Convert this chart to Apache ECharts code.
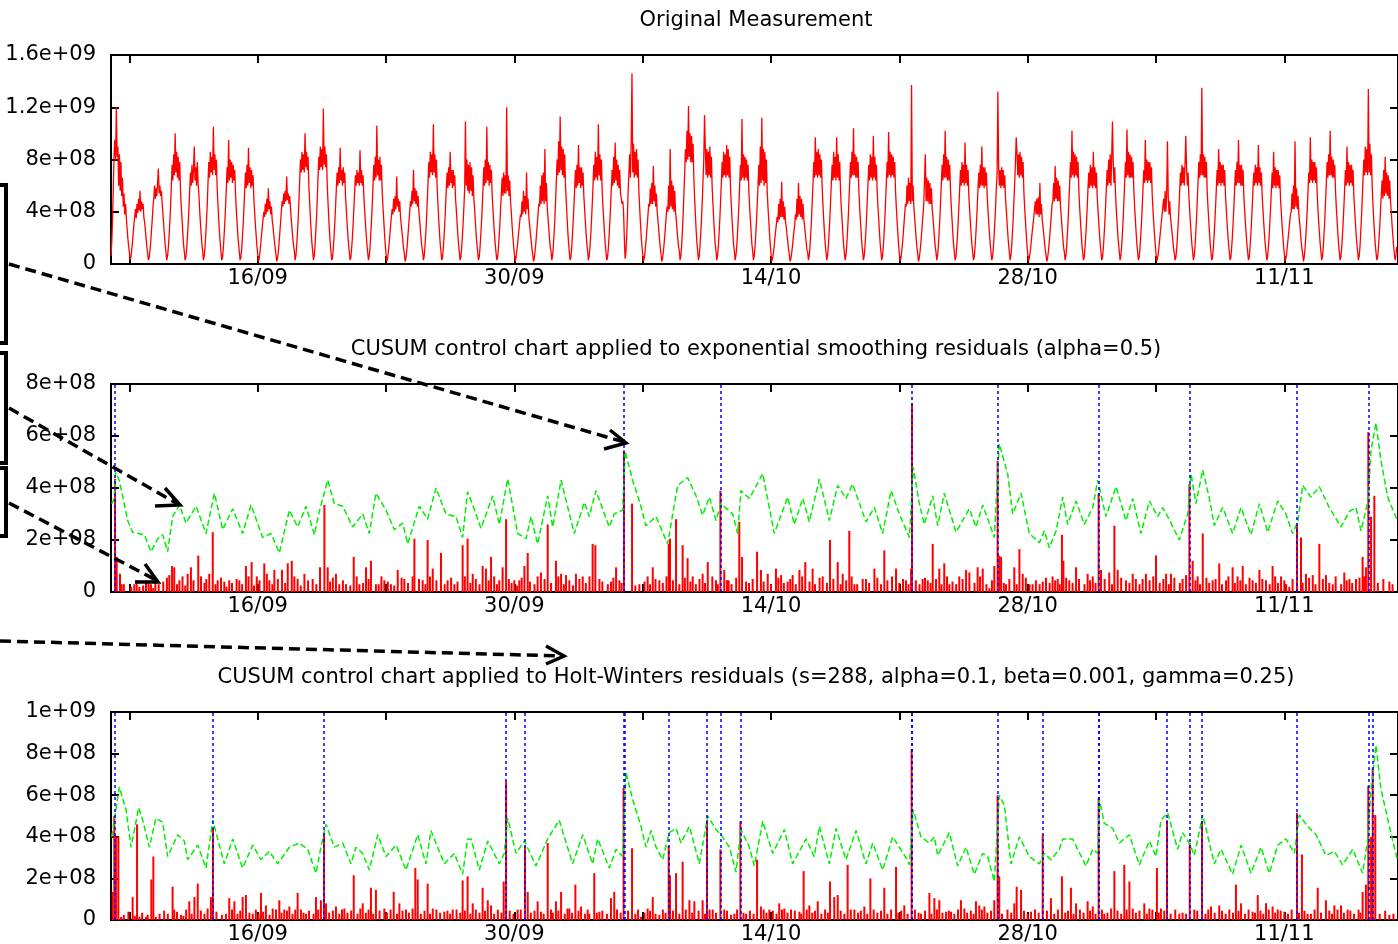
<!DOCTYPE html>
<html><head><meta charset="utf-8">
<script src="https://cdn.jsdelivr.net/npm/echarts@6/dist/echarts.min.js"></script>
<style>html,body{margin:0;padding:0;background:#fff}#c{width:1398px;height:944px}</style>
</head><body><div id="c"></div>
<script>
// x values: days since 01/09 00:00 ; y values in units of 1e8
const xMin = 7, xMax = 77.2;
const tickDays = [8, 15, 22, 29, 36, 43, 50, 57, 64, 71];
const labelDays = [15, 29, 43, 57, 71];
const labelTexts = ['16/09', '30/09', '14/10', '28/10', '11/11'];
const titles = [
  'Original Measurement',
  'CUSUM control chart applied to exponential smoothing residuals (alpha=0.5)',
  'CUSUM control chart applied to Holt-Winters residuals (s=288, alpha=0.1, beta=0.001, gamma=0.25)'
];
const yMaxes = [16, 8, 10];
const yIntervals = [4, 2, 2];

// Original measurement, one sample per hour starting 08/09 00:00 (one row per day)
const measuredStart = 7, measuredStepHours = 1;
const measured = [
0.6,1.6,3.4,5.8,8.4,9.5,8.0,12.0,8.2,9.0,6.0,8.4,5.6,7.8,5.2,6.6,4.4,5.4,3.8,4.6,3.6,2.8,2.0,1.4,
0.9,0.3,0.5,1.0,1.6,2.4,3.0,3.6,4.2,3.5,4.6,3.9,5.0,4.1,5.6,4.0,4.8,4.2,4.6,3.6,3.2,2.6,1.9,1.3,
0.8,0.3,0.5,1.0,1.7,2.6,3.4,4.4,5.0,6.0,5.0,5.8,5.2,6.2,7.3,5.4,6.0,5.2,5.6,4.6,3.8,3.0,2.2,1.4,
0.9,0.3,0.6,1.2,2.1,3.2,4.4,6.0,7.6,6.4,8.4,6.8,10.0,7.0,8.6,6.6,8.2,6.4,7.8,5.6,4.4,3.4,2.4,1.5,
0.9,0.3,0.5,1.1,2.0,3.0,4.2,5.6,7.0,6.0,7.6,6.2,7.2,9.0,6.4,7.4,6.0,7.8,6.2,5.4,4.2,3.2,2.3,1.5,
1.0,0.3,0.6,1.2,2.2,3.3,4.6,6.2,7.8,6.6,8.6,7.0,8.2,6.8,10.5,7.2,8.4,6.8,8.0,5.8,4.6,3.4,2.4,1.6,
0.9,0.3,0.5,1.2,2.1,3.2,4.4,5.8,7.4,6.2,9.5,6.4,8.0,6.6,7.8,6.2,7.6,6.4,7.2,5.4,4.2,3.2,2.3,1.5,
0.9,0.3,0.5,1.1,2.0,3.0,4.2,5.6,7.0,5.8,7.6,6.0,8.9,6.2,7.4,5.8,7.2,6.0,6.8,5.0,4.0,3.0,2.2,1.4,
0.8,0.2,0.4,0.9,1.5,2.2,2.8,3.4,4.0,3.6,4.6,3.8,5.0,4.0,5.8,4.2,4.8,3.8,4.4,3.4,2.9,2.3,1.7,1.2,
0.7,0.2,0.4,0.9,1.6,2.4,3.2,4.0,4.8,4.4,5.4,4.6,5.6,4.8,6.7,4.9,5.4,4.6,5.2,4.2,3.4,2.7,2.0,1.4,
1.0,0.3,0.6,1.3,2.3,3.4,4.8,6.4,8.0,7.0,8.6,7.2,8.4,7.0,10.0,7.4,8.6,7.2,8.2,6.0,4.8,3.6,2.5,1.6,
1.0,0.3,0.6,1.3,2.4,3.5,5.0,6.6,8.2,7.2,9.0,7.4,8.8,7.2,11.9,7.6,9.0,7.4,8.4,6.2,4.8,3.6,2.5,1.6,
0.9,0.3,0.5,1.2,2.1,3.2,4.4,5.8,7.0,6.0,7.4,6.2,8.9,6.4,7.2,6.0,7.4,6.2,7.0,5.2,4.2,3.2,2.3,1.5,
0.9,0.3,0.5,1.2,2.0,3.1,4.3,5.6,6.8,6.0,7.2,6.2,7.0,6.0,8.7,6.2,7.2,6.0,6.8,5.2,4.2,3.2,2.3,1.5,
0.9,0.3,0.6,1.2,2.2,3.3,4.5,6.0,7.6,6.4,8.2,6.6,10.6,6.8,8.0,6.4,8.2,6.4,7.6,5.6,4.4,3.4,2.4,1.5,
0.8,0.2,0.4,0.9,1.5,2.2,2.9,3.6,4.2,3.8,5.0,4.0,5.2,4.2,6.7,4.4,5.0,4.0,4.8,3.6,3.0,2.4,1.8,1.2,
0.8,0.2,0.4,0.9,1.6,2.4,3.2,4.0,4.8,4.4,5.6,4.6,7.2,4.8,5.8,4.6,5.6,4.4,5.2,4.0,3.4,2.6,1.9,1.3,
0.9,0.3,0.6,1.3,2.3,3.4,4.8,6.2,7.8,6.6,8.6,7.0,8.4,6.8,10.7,7.0,8.4,6.6,8.0,5.8,4.6,3.4,2.4,1.5,
0.9,0.3,0.5,1.2,2.1,3.2,4.4,5.8,7.0,5.8,7.4,6.0,8.6,6.2,7.2,5.8,7.2,6.0,6.8,5.0,4.2,3.2,2.3,1.5,
0.9,0.3,0.5,1.2,2.1,3.2,4.4,5.8,10.9,6.0,8.0,5.6,7.6,5.4,7.8,5.6,7.4,5.2,6.8,5.0,4.2,3.2,2.3,1.5,
0.9,0.3,0.5,1.2,2.1,3.2,4.4,5.8,7.4,6.0,8.0,6.2,10.5,6.4,7.8,6.0,7.6,6.2,7.2,5.2,4.2,3.2,2.3,1.5,
0.9,0.3,0.5,1.1,2.0,3.0,4.2,5.4,6.6,5.2,7.0,5.4,6.8,5.4,12.0,5.6,6.8,5.2,6.4,4.8,4.0,3.0,2.2,1.4,
0.8,0.2,0.4,0.9,1.4,2.0,2.6,3.2,3.8,3.6,4.8,3.8,5.6,4.0,5.2,3.8,7.0,4.2,5.0,3.6,3.0,2.4,1.8,1.2,
0.8,0.2,0.4,0.9,1.5,2.2,3.0,3.8,4.6,4.4,6.0,4.6,6.8,4.8,7.0,4.6,8.8,4.8,6.2,4.4,3.6,2.8,2.0,1.3,
1.0,0.3,0.6,1.3,2.3,3.4,4.8,6.4,8.0,6.8,9.4,7.0,11.3,7.2,9.0,6.8,8.8,6.6,8.4,6.0,4.8,3.6,2.5,1.6,
0.9,0.3,0.5,1.2,2.1,3.2,4.4,5.8,7.2,5.8,7.6,6.0,9.1,6.2,7.4,5.8,7.4,6.0,7.0,5.2,4.2,3.2,2.3,1.5,
0.9,0.3,0.6,1.3,2.2,3.3,4.6,6.0,7.6,6.4,8.6,6.6,8.2,6.4,10.7,6.8,8.4,6.4,8.0,5.6,4.4,3.4,2.4,1.5,
0.9,0.3,0.5,1.2,2.1,3.2,4.4,5.8,7.2,6.0,8.2,6.2,9.3,6.4,8.0,6.0,7.6,5.8,7.2,5.4,5.0,4.6,4.8,4.0,
2.0,0.4,0.8,2.0,3.6,5.6,7.0,8.4,6.6,9.5,14.6,7.0,9.2,6.6,8.6,6.8,8.8,6.6,8.0,5.6,4.4,3.2,2.2,1.4,
0.8,0.2,0.4,0.9,1.5,2.2,3.0,3.8,4.6,4.4,5.8,4.6,6.2,4.6,7.5,4.8,6.0,4.4,5.4,4.0,3.4,2.6,1.9,1.3,
0.8,0.2,0.4,0.9,1.5,2.2,3.0,3.8,4.4,4.0,6.0,4.2,8.8,4.4,6.4,4.2,6.0,4.0,5.6,4.0,3.4,2.6,1.9,1.3,
1.0,0.3,0.6,1.4,2.5,3.8,5.4,7.0,8.8,7.8,10.2,8.0,12.1,8.2,10.0,7.8,9.8,7.8,9.2,6.6,5.0,3.8,2.6,1.6,
1.0,0.3,0.6,1.3,2.3,3.4,4.8,6.4,8.0,11.4,9.0,6.8,8.8,6.6,8.6,6.8,9.0,6.6,8.2,5.8,4.6,3.4,2.4,1.5,
1.0,0.3,0.6,1.3,2.3,3.4,4.8,6.2,7.8,6.6,8.6,6.8,8.4,6.6,9.1,6.8,8.8,6.6,8.2,5.8,4.6,3.4,2.4,1.5,
1.0,0.3,0.6,1.2,2.2,3.3,4.6,6.0,7.6,6.4,11.1,6.6,8.4,6.4,8.2,6.6,8.0,6.4,7.6,5.6,4.4,3.4,2.4,1.5,
1.0,0.3,0.6,1.2,2.2,3.3,4.6,6.0,7.6,6.0,9.0,6.2,11.2,6.4,8.8,6.0,8.6,6.2,8.0,5.6,4.4,3.4,2.4,1.5,
0.8,0.2,0.4,0.8,1.3,1.9,2.5,3.0,3.6,3.2,4.6,3.4,5.0,3.6,6.3,3.6,4.8,3.4,4.4,3.2,2.8,2.2,1.7,1.1,
0.7,0.2,0.4,0.8,1.3,1.9,2.5,3.0,3.8,3.4,5.0,3.6,6.2,3.8,5.2,3.6,5.0,3.4,4.6,3.4,2.9,2.3,1.7,1.1,
0.9,0.3,0.6,1.3,2.3,3.4,4.8,6.2,7.8,6.6,9.7,6.8,8.6,6.6,8.8,6.8,8.4,6.6,8.0,5.8,4.6,3.4,2.4,1.5,
0.9,0.3,0.6,1.3,2.3,3.4,4.8,6.2,7.6,6.4,8.6,6.6,8.2,6.4,9.7,6.6,8.4,6.4,7.8,5.6,4.4,3.4,2.4,1.5,
0.9,0.3,0.6,1.3,2.3,3.4,4.8,6.2,7.8,6.6,8.6,6.8,10.4,6.8,8.4,6.6,8.2,6.6,7.8,5.6,4.4,3.4,2.4,1.5,
0.9,0.3,0.6,1.3,2.3,3.4,4.8,6.2,7.6,6.4,8.4,6.6,8.2,6.4,9.8,6.6,8.2,6.4,7.6,5.6,4.4,3.4,2.4,1.5,
0.9,0.3,0.6,1.3,2.3,3.4,4.8,6.2,7.8,6.6,10.1,6.8,8.6,6.6,8.4,6.8,8.2,6.6,7.8,5.6,4.4,3.4,2.4,1.5,
0.8,0.2,0.4,0.9,1.5,2.2,3.0,3.8,4.6,4.4,6.0,4.6,6.6,4.8,6.2,4.6,13.7,4.8,6.0,4.4,3.6,2.8,2.0,1.3,
0.8,0.2,0.4,0.9,1.5,2.2,3.0,3.8,4.6,4.6,8.4,4.8,6.6,4.8,6.4,4.6,6.2,4.6,5.8,4.2,3.6,2.8,2.0,1.3,
0.9,0.3,0.6,1.3,2.3,3.4,4.8,6.2,7.6,6.4,8.4,6.6,10.2,6.6,8.2,6.4,8.0,6.4,7.6,5.6,4.4,3.4,2.4,1.5,
0.9,0.3,0.5,1.2,2.1,3.2,4.4,5.8,7.2,6.0,7.8,6.2,7.6,6.0,9.3,6.2,7.6,6.0,7.2,5.2,4.2,3.2,2.3,1.5,
0.9,0.3,0.5,1.2,2.1,3.2,4.4,5.8,7.0,5.8,7.6,6.0,9.0,6.0,7.4,5.8,7.4,6.0,7.0,5.2,4.2,3.2,2.3,1.5,
0.9,0.3,0.5,1.2,2.1,3.2,4.4,5.8,7.0,13.2,7.4,6.0,7.2,5.8,7.4,6.0,7.2,5.8,6.8,5.0,4.2,3.2,2.3,1.5,
0.9,0.3,0.6,1.3,2.3,3.4,4.8,6.2,7.8,9.7,8.6,6.8,8.4,6.6,8.6,6.8,8.2,6.6,7.8,5.6,4.4,3.4,2.4,1.5,
0.8,0.2,0.4,0.8,1.3,1.9,2.5,3.0,3.6,3.6,4.8,3.8,5.0,3.8,5.1,3.6,6.2,3.8,4.6,3.4,2.9,2.3,1.7,1.1,
0.7,0.2,0.4,0.9,1.5,2.2,3.0,3.8,4.6,4.8,6.2,4.8,7.5,5.0,6.6,4.8,6.4,4.8,6.0,4.4,3.6,2.8,2.0,1.3,
0.9,0.3,0.6,1.3,2.3,3.4,4.8,6.2,7.8,6.6,10.2,6.8,8.6,6.6,8.4,6.8,8.2,6.6,7.8,5.6,4.4,3.4,2.4,1.5,
0.9,0.3,0.5,1.2,2.1,3.2,4.4,5.8,7.0,5.8,7.6,6.0,7.4,5.8,8.6,6.0,7.4,5.8,7.0,5.2,4.2,3.2,2.3,1.5,
0.9,0.3,0.5,1.2,2.1,3.2,4.4,5.8,7.2,6.0,8.0,6.2,8.4,6.0,8.2,10.9,7.8,6.2,7.4,5.4,4.2,3.2,2.3,1.5,
0.9,0.3,0.6,1.3,2.3,3.4,4.8,6.2,7.8,6.6,10.3,6.8,8.6,6.6,8.4,6.6,8.2,6.6,7.8,5.6,4.4,3.4,2.4,1.5,
0.9,0.3,0.5,1.2,2.1,3.2,4.4,5.8,7.2,6.2,9.5,6.4,8.0,6.2,7.8,6.4,7.8,6.2,7.4,5.4,4.2,3.2,2.3,1.5,
0.8,0.2,0.4,0.8,1.4,2.0,2.6,3.2,3.8,3.8,5.0,4.0,5.6,4.0,5.4,9.4,5.2,3.8,4.8,3.6,3.0,2.4,1.8,1.2,
0.8,0.3,0.5,1.1,2.0,3.0,4.2,5.6,7.0,6.0,7.6,6.2,7.4,6.0,7.6,9.8,7.4,6.0,7.0,5.2,4.2,3.2,2.3,1.5,
0.9,0.3,0.6,1.3,2.3,3.4,4.8,6.2,7.8,6.6,8.4,6.8,13.5,6.8,8.4,6.6,8.2,6.6,7.8,5.6,4.4,3.4,2.4,1.5,
0.9,0.3,0.5,1.2,2.1,3.2,4.4,5.8,7.2,6.0,8.8,6.2,7.8,6.0,7.6,6.2,7.6,6.0,7.2,5.2,4.2,3.2,2.3,1.5,
0.9,0.3,0.5,1.2,2.1,3.2,4.4,5.8,7.2,6.0,7.8,6.2,9.5,6.2,7.6,6.0,7.6,6.0,7.2,5.2,4.2,3.2,2.3,1.5,
0.9,0.3,0.5,1.2,2.1,3.2,4.4,5.8,7.0,6.0,7.6,6.2,7.4,6.0,9.1,6.2,7.4,6.0,7.0,5.2,4.2,3.2,2.3,1.5,
0.9,0.3,0.5,1.2,2.0,3.1,4.3,5.6,7.0,5.8,8.6,6.0,7.4,5.8,7.2,6.0,7.2,5.8,6.8,5.0,4.0,3.0,2.2,1.4,
0.8,0.2,0.4,0.8,1.4,2.0,2.6,3.2,3.8,4.0,5.4,4.2,6.0,4.2,9.4,4.4,5.8,4.2,5.2,3.8,3.2,2.5,1.8,1.2,
0.8,0.2,0.5,1.1,2.0,3.0,4.2,5.6,7.0,6.2,9.7,6.4,8.0,6.2,7.8,6.4,7.8,6.2,7.4,5.4,4.2,3.2,2.3,1.5,
0.9,0.3,0.6,1.3,2.3,3.4,4.8,6.2,7.8,6.6,8.4,6.8,10.2,6.8,8.2,6.6,8.0,6.6,7.6,5.6,4.4,3.4,2.4,1.5,
0.9,0.3,0.5,1.2,2.1,3.2,4.4,5.8,7.2,6.0,9.0,6.2,7.8,6.0,7.6,6.2,7.6,6.0,7.2,5.2,4.2,3.2,2.3,1.5,
0.9,0.3,0.6,1.3,2.4,3.6,5.0,6.4,8.0,6.8,9.0,7.0,8.8,6.8,13.4,7.0,9.2,6.8,8.4,6.0,4.6,3.4,2.4,1.5,
0.9,0.3,0.5,1.1,2.0,3.0,4.2,5.4,6.4,5.0,7.2,5.2,8.2,5.4,7.0,5.2,6.8,5.0,6.4,4.8,4.0,3.0,2.2,1.4,
0.8,0.3,0.6,1.3
];

// Exponential smoothing CUSUM panel
const esAlarmDays = [7.22, 34.98, 40.24, 50.69, 55.36, 60.87, 65.82, 71.69, 75.58];
const esCusumDays = [7.22,7.31,7.49,7.58,8.27,8.55,8.91,9.18,9.42,9.60,10.18,10.33,10.45,10.73,11.18,11.36,11.76,11.91,12.36,12.55,12.82,13.18,13.45,14.00,14.36,14.67,14.95,15.36,15.64,15.91,16.33,16.64,16.86,17.18,17.55,18.00,18.40,18.64,18.82,19.27,19.82,20.24,20.55,20.91,21.18,21.45,21.91,22.27,22.64,23.00,23.45,23.55,24.00,24.27,24.55,25.00,25.36,25.73,26.18,26.45,
26.73,27.27,27.45,27.73,28.18,28.36,28.55,29.0,29.27,29.55,29.73,30.27,30.45,30.82,31.27,31.55,31.82,32.36,32.73,33.27,33.42,33.64,34.27,34.55,34.73,34.98,35.42,35.82,36.27,36.55,36.91,37.42,37.49,37.82,38.18,38.45,38.73,39.27,39.55,40.0,40.24,40.45,40.69,41.27,41.42,41.64,42.24,42.45,42.82,43.27,43.55,43.91,44.18,44.55,44.87,45.27,45.82,46.22,46.64,46.91,47.27,47.55,48.18,48.64,49.18,49.82,50.36,50.64,50.69,51.27,51.55,
51.82,52.18,52.45,52.73,53.27,53.64,53.82,54.27,54.55,54.91,55.18,55.36,55.45,55.55,55.82,56.27,56.55,56.73,57.27,57.82,58.36,58.64,58.87,58.95,59.27,59.64,60.27,60.55,60.87,61.0,61.45,61.73,61.91,62.36,62.73,63.27,63.45,64.0,64.55,64.82,65.45,65.64,65.82,66.0,66.27,66.55,67.09,67.45,67.82,68.18,68.45,68.73,69.27,69.64,70.0,70.36,70.82,71.27,71.69,71.91,72.18,72.55,72.91,73.27,73.64,74.27,74.55,74.91,75.27,75.45,75.58,75.73,75.91,76.73];
const esCusumVals = [4.35,1.35,0.7,0.3,0.3,0.2,0.45,0.3,0.5,0.3,0.65,1.0,0.95,0.45,0.7,0.95,1.4,0.6,0.7,2.3,0.45,0.4,0.45,0.45,1.0,1.15,0.6,1.1,0.45,0.85,0.85,1.1,1.2,0.5,0.7,0.5,0.95,3.35,0.95,0.7,0.3,1.35,0.3,0.95,1.2,0.3,0.45,0.3,0.85,0.5,0.6,2.05,0.45,2.0,0.9,1.5,0.45,0.3,1.8,2.05,
0.7,1.0,0.9,1.35,0.45,0.95,2.8,0.45,0.45,1.0,1.5,0.6,0.75,2.6,1.2,0.7,0.65,0.7,0.6,1.85,1.8,0.5,0.4,0.95,0.45,5.45,3.4,0.3,0.6,0.95,0.45,1.85,2.05,2.8,1.8,1.3,0.6,0.7,1.15,0.45,3.9,0.85,0.45,2.7,1.35,0.4,1.55,0.85,0.7,0.9,0.65,0.4,0.65,0.85,1.15,0.9,0.6,2.0,1.15,0.7,2.35,0.3,0.5,0.9,1.6,0.9,0.45,0.9,7.25,0.5,0.45,
1.85,0.9,1.1,0.3,0.6,0.85,0.75,0.95,0.9,0.15,1.0,5.05,1.4,1.35,0.3,0.95,1.65,0.7,0.3,0.4,0.6,0.5,2.2,1.2,0.45,0.95,0.7,0.6,3.8,0.85,0.75,2.55,0.85,0.45,0.7,0.5,0.7,1.4,0.7,0.7,0.5,0.65,4.15,1.2,0.6,2.25,0.45,1.1,0.45,0.95,0.6,1.0,0.45,0.85,0.45,1.0,0.6,0.2,2.65,2.1,0.7,0.65,1.85,0.65,0.3,0.75,0.5,0.5,1.35,0.95,6.15,2.9,3.7,0.4];
// small residual impulses filling the base of the panel
const esGrass = [[7.7,0.3],[8.1,0.2],[8.4,0.45],[8.75,0.25],[9.05,0.35],[9.3,0.15],[9.85,0.4],[10.05,0.55],[10.6,0.3],[10.9,0.6],[11.05,0.25],[11.5,0.45],[12.1,0.35],[12.2,0.5],[12.7,0.3],[13.0,0.55],[13.3,0.2],[13.6,0.35],[13.85,0.5],[14.15,0.3],[14.5,0.6],[14.8,0.25],[15.1,0.45],[15.5,0.7],[15.8,0.3],[16.1,0.5],[16.5,0.35],[17.0,0.6],[17.35,0.25],[17.75,0.45],[18.2,0.3],[18.95,0.4],[19.1,0.55],[19.45,0.3],[19.65,0.45],[20.05,0.25],[20.4,0.6],[20.75,0.35],[21.05,0.5],[21.6,0.3],[21.75,0.6],[22.1,0.4],[22.45,0.25],[22.85,0.55],[23.2,0.35],[23.8,0.5],[24.15,0.3],[24.4,0.6],[24.75,0.45],[25.2,0.3],[25.55,0.55],[25.9,0.4],[26.3,0.6],[26.6,0.35],[26.9,0.5],[27.1,0.3],[27.6,0.45],[27.9,0.6],[28.05,0.3],[28.7,0.5],[28.85,0.35],[29.15,0.25],[29.4,0.55],[29.85,0.4],[30.1,0.3],[30.65,0.5],[31.0,0.35],[31.4,0.6],[31.7,0.3],[32.0,0.45],[32.2,0.25],[32.55,0.5],[32.9,0.35],[33.1,0.6],[33.8,0.4],[34.1,0.3],[34.4,0.55],[34.85,0.35],[35.6,0.25],[36.1,0.4],[36.4,0.3],[36.7,0.5],[37.1,0.35],[37.3,0.6],[37.65,0.45],[38.0,0.3],[38.3,0.55],[38.6,0.4],[38.9,0.3],[39.1,0.5],[39.4,0.35],[39.8,0.6],[40.1,0.3],[40.6,0.45],[40.85,0.3],[41.1,0.55],[41.8,0.35],[42.0,0.5],[42.6,0.4],[43.0,0.3],[43.4,0.55],[43.7,0.35],[44.05,0.5],[44.35,0.3],[44.7,0.6],[45.1,0.4],[45.4,0.3],[45.65,0.55],[46.05,0.35],[46.4,0.5],[46.8,0.3],[47.1,0.45],[47.4,0.6],[47.7,0.3],[48.0,0.5],[48.35,0.35],[48.8,0.55],[49.0,0.3],[49.35,0.45],[49.6,0.6],[50.0,0.35],[50.2,0.5],[50.5,0.3],[50.9,0.45],[51.1,0.3],[51.4,0.55],[51.7,0.35],[52.0,0.5],[52.3,0.3],[52.6,0.6],[52.9,0.4],[53.1,0.3],[53.45,0.5],[54.1,0.35],[54.4,0.6],[54.75,0.3],[55.05,0.45],[55.7,0.35],[56.0,0.5],[56.4,0.3],[56.9,0.55],[57.1,0.3],[57.45,0.45],[57.65,0.3],[58.0,0.55],[58.2,0.35],[58.5,0.45],[58.75,0.3],[59.1,0.55],[59.45,0.35],[59.8,0.5],[60.1,0.3],[60.4,0.45],[60.7,0.35],[61.2,0.5],[61.6,0.3],[62.1,0.55],[62.55,0.35],[62.9,0.5],[63.1,0.3],[63.65,0.45],[63.85,0.6],[64.2,0.35],[64.4,0.5],[64.7,0.3],[65.0,0.55],[65.3,0.35],[66.15,0.45],[66.4,0.3],[66.75,0.55],[66.9,0.35],[67.25,0.5],[67.6,0.3],[67.95,0.6],[68.3,0.35],[68.6,0.45],[68.9,0.3],[69.1,0.55],[69.45,0.35],[69.8,0.5],[70.2,0.3],[70.5,0.6],[70.65,0.35],[71.0,0.45],[71.1,0.3],[71.45,0.5],[72.0,0.35],[72.35,0.55],[72.7,0.3],[73.1,0.5],[73.45,0.35],[73.8,0.6],[74.1,0.3],[74.4,0.45],[74.7,0.35],[75.1,0.55],[75.35,0.6],[76.1,0.35],[76.4,0.5],[76.9,0.3]];
const esLimitDays = [7.04,7.18,7.25,7.45,7.91,8.18,8.82,9.18,9.55,9.82,10.09,10.36,10.73,11.09,11.64,12.18,12.64,13.09,13.64,14.18,14.64,15.27,15.73,16.18,16.73,17.18,17.64,18.09,18.36,18.82,19.18,19.64,20.18,20.73,21.09,21.45,22.0,22.45,22.91,23.18,23.82,24.27,24.73,25.27,25.82,26.18,
26.45,26.73,27.18,27.82,28.18,28.64,29.18,29.64,29.91,30.27,30.82,31.09,31.55,32.27,32.82,33.09,33.45,34.18,34.45,34.91,35.05,35.45,35.82,36.18,36.73,37.36,37.64,37.91,38.45,38.91,39.27,39.64,40.0,40.27,40.91,41.18,41.36,41.82,42.55,43.18,43.91,44.27,44.73,45.09,45.64,46.18,46.64,47.09,47.45,48.18,48.64,49.09,49.55,50.0,50.55,50.76,51.09,51.36,
51.82,52.09,52.45,53.09,53.82,54.18,54.55,55.18,55.45,55.91,56.18,56.64,57.09,57.64,57.91,58.18,58.55,58.91,59.18,59.64,60.09,60.55,60.82,61.27,61.82,62.36,62.73,63.18,63.64,64.09,64.36,64.64,65.27,65.73,65.91,66.18,66.55,66.91,67.18,67.64,68.18,68.64,69.18,69.64,70.09,70.64,71.09,71.45,71.73,72.0,72.45,72.91,73.45,74.09,74.55,74.91,75.18,75.55,75.73,76.0,76.27,76.64,77.16];
const esLimitVals = [3.4,3.6,4.6,4.3,2.75,2.3,2.2,1.55,2.05,2.2,1.55,2.9,3.35,2.65,3.3,2.25,3.8,2.4,3.2,2.25,3.35,2.1,2.25,1.5,3.15,2.5,3.3,2.2,3.1,4.3,3.4,3.3,2.5,3.0,2.25,3.8,3.15,2.4,2.65,1.85,3.3,2.8,4.0,3.0,2.9,2.1,
3.85,3.35,2.45,3.7,2.6,4.35,2.25,2.05,2.9,1.85,3.7,2.5,4.3,2.25,3.45,2.9,3.9,2.5,3.0,3.15,5.4,4.3,3.5,2.55,2.9,1.85,3.0,4.1,4.4,3.7,2.95,3.65,2.75,3.4,3.0,2.25,3.9,3.6,4.55,2.25,3.65,2.6,3.6,2.7,4.35,2.75,4.1,3.6,4.15,2.7,3.25,2.25,3.9,3.0,2.1,4.8,3.4,2.6,
3.7,2.55,3.8,2.3,3.2,2.5,3.35,2.1,5.7,4.55,3.0,3.8,2.25,1.9,2.35,1.7,2.35,3.65,2.6,3.5,2.6,3.25,4.3,2.9,4.05,2.75,3.6,2.25,3.5,2.9,3.25,2.9,2.0,3.0,4.55,3.4,4.7,3.6,2.55,3.25,2.25,3.25,2.2,3.4,2.3,3.5,3.0,2.25,2.7,4.1,3.65,4.05,3.25,2.5,3.1,3.25,2.35,3.45,5.45,6.5,5.05,3.65,2.75];

// Holt-Winters CUSUM panel
const hwAlarmDays = [7.22, 12.56, 18.62, 28.55, 29.58, 34.96, 35.0, 37.42, 39.51, 40.24, 41.33, 50.67, 50.70, 55.36, 57.82, 60.87, 60.90, 64.60, 65.84, 66.51, 71.69, 75.58, 75.82];
const hwCusumDays = [7.09,7.18,7.27,7.40,7.55,8.18,8.42,8.55,8.91,9.20,9.31,9.45,10.36,10.45,10.82,11.27,11.55,11.73,12.27,12.45,12.56,13.27,13.45,13.73,14.18,14.36,14.73,15.18,15.45,15.82,16.18,16.45,16.73,17.18,17.36,17.64,18.18,18.45,18.62,18.73,19.27,19.73,20.24,20.73,21.18,21.45,21.91,22.42,22.73,23.09,23.60,23.73,24.27,24.55,25.18,25.64,26.18,26.45,
26.73,27.27,27.55,27.73,28.42,28.55,29.18,29.58,29.73,30.27,30.45,30.82,31.27,31.55,32.0,32.33,32.64,33.09,33.36,33.64,34.27,34.45,34.96,35.42,35.91,36.27,36.55,36.91,37.42,37.49,37.82,38.18,38.55,38.82,39.27,39.51,39.82,40.24,40.45,40.82,41.33,41.64,42.24,42.45,42.91,43.45,43.73,44.09,44.55,44.78,45.09,45.55,46.22,46.45,46.64,47.18,47.55,48.09,48.42,49.18,49.82,50.27,50.67,
51.18,51.64,51.91,52.18,52.55,52.82,53.36,53.55,54.18,54.36,54.64,55.18,55.36,55.45,56.27,56.40,56.64,57.18,57.82,58.27,58.87,59.36,59.64,60.27,60.55,60.87,61.18,61.55,61.73,62.27,62.55,62.73,63.36,63.64,64.05,64.27,64.60,65.27,65.64,65.84,66.09,66.51,67.0,67.45,68.36,68.64,69.27,69.55,70.0,70.36,70.64,71.0,71.69,71.96,72.27,72.82,73.27,73.73,74.09,74.45,75.27,75.45,75.58,75.73,75.82,75.96,76.73];
const hwCusumVals = [1.35,5.0,4.0,4.0,0.15,1.1,4.6,0.15,0.15,1.95,3.05,0.15,1.6,0.5,0.25,0.9,1.1,1.75,0.55,1.1,4.4,0.3,1.05,0.9,1.1,1.2,0.3,1.3,0.7,0.55,0.95,0.5,0.65,1.3,0.5,0.3,1.1,0.95,4.2,0.8,0.65,0.55,2.15,0.8,1.55,1.45,0.55,1.35,0.8,0.5,2.5,1.95,1.75,0.55,0.4,0.5,1.9,2.1,
0.8,1.55,0.95,0.7,1.85,6.65,0.5,3.55,1.35,0.9,0.4,3.7,0.9,1.35,0.55,1.7,0.65,0.3,2.25,0.4,1.05,1.35,6.35,3.45,0.15,0.55,1.1,0.25,3.55,2.15,2.25,2.8,0.95,0.9,0.95,4.8,0.5,3.4,0.5,0.25,4.75,0.3,2.9,0.65,0.5,0.8,0.55,0.5,0.4,2.35,0.7,0.9,1.85,1.1,1.2,2.65,0.5,0.65,2.0,1.55,2.55,0.7,8.2,
0.3,1.3,1.05,0.95,0.4,0.4,0.95,0.55,0.9,0.7,0.65,0.95,6.0,2.1,0.8,1.6,1.45,0.4,4.1,1.05,2.1,1.55,0.8,0.9,0.65,5.85,0.3,0.55,2.35,2.65,1.85,0.55,0.8,0.55,2.5,0.55,4.8,0.3,0.3,3.7,0.5,4.75,0.65,0.7,1.7,0.8,0.4,1.2,0.8,0.65,0.5,0.4,5.15,3.15,0.3,1.55,0.95,0.7,0.7,0.5,1.35,1.7,6.45,4.0,7.3,5.05,0.25];
const hwGrass = [[7.7,0.25],[7.95,0.4],[8.3,0.2],[8.7,0.35],[9.0,0.25],[9.65,0.3],[9.9,0.45],[10.1,0.3],[10.6,0.4],[10.95,0.2],[11.1,0.5],[11.4,0.3],[11.9,0.45],[12.1,0.3],[12.75,0.4],[13.05,0.25],[13.6,0.5],[13.9,0.3],[14.05,0.45],[14.55,0.35],[14.9,0.5],[15.05,0.3],[15.3,0.4],[15.65,0.25],[16.0,0.5],[16.3,0.35],[16.6,0.45],[16.9,0.3],[17.05,0.5],[17.5,0.35],[17.8,0.45],[18.05,0.3],[18.3,0.5],[18.9,0.35],[19.1,0.45],[19.45,0.3],[19.6,0.5],[19.9,0.35],[20.1,0.45],[20.45,0.3],[20.6,0.55],[20.9,0.35],[21.05,0.5],[21.3,0.3],[21.65,0.45],[22.05,0.35],[22.25,0.5],[22.6,0.3],[22.9,0.45],[23.25,0.35],[23.45,0.55],[23.9,0.3],[24.1,0.45],[24.4,0.3],[24.75,0.5],[24.95,0.35],[25.35,0.45],[25.5,0.3],[25.85,0.5],[26.05,0.35],[26.3,0.45],[26.6,0.3],[26.9,0.5],[27.1,0.35],[27.4,0.45],[27.9,0.3],[28.1,0.5],[28.3,0.35],[28.75,0.45],[28.95,0.3],[29.35,0.5],[29.9,0.35],[30.1,0.45],[30.6,0.3],[31.0,0.5],[31.1,0.35],[31.4,0.45],[31.75,0.3],[31.9,0.55],[32.15,0.35],[32.5,0.45],[32.85,0.3],[33.0,0.5],[33.5,0.35],[33.8,0.45],[34.05,0.3],[34.6,0.5],[34.8,0.35],[35.2,0.45],[35.6,0.3],[35.75,0.5],[36.1,0.35],[36.4,0.45],[36.7,0.3],[37.1,0.5],[37.25,0.35],[37.65,0.45],[38.0,0.3],[38.35,0.5],[38.7,0.35],[39.05,0.45],[39.4,0.3],[39.65,0.5],[40.0,0.35],[40.6,0.45],[41.0,0.3],[41.15,0.5],[41.5,0.35],[41.85,0.45],[42.05,0.3],[42.6,0.5],[42.75,0.35],[43.1,0.45],[43.3,0.3],[43.6,0.5],[43.9,0.35],[44.3,0.45],[44.65,0.3],[44.95,0.5],[45.25,0.35],[45.4,0.45],[45.75,0.3],[45.95,0.5],[46.1,0.35],[46.8,0.45],[47.0,0.3],[47.35,0.5],[47.75,0.35],[47.9,0.45],[48.25,0.3],[48.6,0.5],[48.8,0.35],[49.0,0.45],[49.35,0.3],[49.55,0.5],[49.95,0.35],[50.1,0.45],[50.45,0.3],[50.85,0.5],[51.05,0.35],[51.4,0.45],[51.75,0.3],[52.05,0.5],[52.35,0.35],[52.7,0.45],[53.0,0.3],[53.2,0.5],[53.7,0.35],[53.9,0.45],[54.05,0.3],[54.5,0.5],[54.8,0.35],[55.0,0.45],[55.6,0.3],[55.9,0.5],[56.1,0.35],[56.8,0.45],[57.0,0.3],[57.4,0.5],[57.6,0.35],[58.05,0.45],[58.45,0.3],[58.65,0.5],[59.05,0.35],[59.2,0.45],[59.5,0.3],[59.85,0.5],[60.05,0.35],[60.4,0.45],[60.7,0.3],[61.05,0.5],[61.35,0.35],[61.9,0.45],[62.1,0.3],[62.4,0.5],[62.9,0.35],[63.1,0.45],[63.5,0.3],[63.8,0.5],[64.15,0.35],[64.45,0.45],[64.8,0.3],[65.05,0.5],[65.45,0.35],[66.25,0.45],[66.7,0.3],[66.85,0.5],[67.2,0.35],[67.6,0.45],[67.8,0.3],[68.0,0.5],[68.2,0.35],[68.5,0.45],[68.85,0.3],[69.05,0.5],[69.4,0.35],[69.7,0.45],[69.85,0.3],[70.15,0.5],[70.5,0.35],[70.8,0.45],[71.2,0.3],[71.4,0.5],[71.8,0.35],[72.1,0.45],[72.45,0.3],[72.65,0.5],[73.0,0.35],[73.45,0.45],[73.6,0.3],[73.9,0.5],[74.25,0.35],[74.6,0.45],[74.8,0.3],[75.05,0.5],[75.15,0.35],[76.2,0.3],[76.5,0.45],[76.95,0.3]];
const hwLimitDays = [7.04,7.22,7.45,7.82,8.09,8.27,8.51,8.73,9.09,9.45,9.82,10.09,10.64,11.0,11.18,11.73,12.18,12.55,12.82,13.18,13.64,14.18,14.73,15.18,15.64,16.09,16.73,17.27,17.73,18.18,18.45,18.73,19.18,19.64,20.09,20.36,20.73,21.09,21.55,22.0,22.55,23.09,23.73,24.18,24.45,25.18,25.73,26.18,26.45,
26.64,27.09,27.55,28.18,28.45,28.64,29.09,29.55,30.18,30.82,31.45,32.18,32.73,33.27,33.55,34.18,34.55,34.91,35.09,35.45,35.91,36.18,36.45,36.73,37.09,37.45,37.82,38.09,38.55,39.09,39.55,40.0,40.27,40.73,41.09,41.36,41.82,42.09,42.55,43.09,43.73,44.18,44.91,45.36,45.64,46.18,46.55,47.09,47.64,48.18,48.55,49.09,49.64,50.36,50.55,50.76,51.18,51.64,
51.91,52.09,52.73,53.18,53.64,54.09,54.55,54.82,55.18,55.45,55.73,56.09,56.55,57.09,57.64,57.91,58.27,58.73,58.91,59.45,60.18,60.55,60.82,60.91,61.18,61.64,62.0,62.55,63.09,63.64,64.0,64.27,64.64,65.18,65.45,65.82,66.09,66.55,67.18,67.55,68.18,68.64,69.18,69.73,70.18,70.64,71.09,71.55,71.82,72.27,72.73,73.27,73.73,74.18,74.73,75.27,75.55,75.73,76.0,76.27,76.73,77.16];
const hwLimitVals = [4.0,5.0,6.4,5.3,3.5,4.3,5.4,4.8,3.5,4.9,4.7,3.05,4.1,3.8,2.9,3.6,2.5,4.8,3.9,2.7,3.9,2.5,3.6,2.9,3.3,2.7,3.5,3.7,3.4,2.25,3.5,4.6,3.5,3.7,2.7,3.5,3.2,2.4,4.1,3.05,3.6,2.4,4.1,2.7,4.3,2.7,3.2,2.2,3.9,
3.9,2.4,3.8,2.7,3.2,4.9,3.2,3.8,2.6,3.9,4.8,2.7,4.1,2.7,3.9,2.5,3.4,3.05,7.1,5.8,4.5,3.5,4.3,3.5,2.9,4.2,4.4,3.7,4.5,2.7,5.0,4.35,4.1,3.5,2.3,4.35,3.5,2.6,4.75,3.2,4.35,2.7,3.9,3.05,4.5,2.7,4.4,2.9,4.3,2.7,3.7,2.4,4.0,3.0,2.65,5.3,4.0,3.7,
4.0,3.1,4.2,2.6,3.5,2.2,3.2,3.05,1.85,6.0,5.5,2.7,4.0,3.05,2.7,3.2,2.9,3.4,3.9,3.9,2.6,3.4,3.2,5.8,4.65,4.4,3.7,4.1,2.65,3.8,3.05,4.8,5.15,3.4,4.2,3.7,3.1,5.05,2.7,3.4,2.2,3.6,2.25,3.5,2.25,3.6,3.9,3.2,5.05,4.5,4.1,3.1,3.3,2.65,3.4,2.25,3.9,6.3,8.4,6.3,4.5,2.9];

const FONT = '"DejaVu Sans", "Liberation Sans", Arial, sans-serif';
const FS = 21;
const gridTops = [55, 384, 712];
const gridHeights = [209, 208, 208];

function sci(v) {
  if (v === 0) return '0';
  const val = v * 1e8;
  const e = Math.floor(Math.log10(val) + 1e-9);
  const m = Math.round(val / Math.pow(10, e) * 10) / 10;
  return m + 'e+' + (e < 10 ? '0' : '') + e;
}
function dateLabel(v) {
  for (let i = 0; i < labelDays.length; i++) if (Math.abs(labelDays[i] - v) < 1e-6) return labelTexts[i];
  return '';
}
const black = { color: '#000', width: 2 };
function xAx(gi, pos) {
  return {
    type: 'value', gridIndex: gi, position: pos, min: xMin, max: xMax,
    axisLine: { show: true, onZero: false, lineStyle: black },
    axisTick: { show: true, inside: true, length: 8, customValues: tickDays, lineStyle: black },
    axisLabel: { show: pos === 'bottom', customValues: labelDays, formatter: dateLabel,
      fontSize: FS, fontFamily: FONT, color: '#000', margin: 4 },
    splitLine: { show: false }
  };
}
function yAx(gi, pos) {
  return {
    type: 'value', gridIndex: gi, position: pos, min: 0, max: yMaxes[gi], interval: yIntervals[gi],
    axisLine: { show: true, onZero: false, lineStyle: black },
    axisTick: { show: true, inside: true, length: 8, lineStyle: black },
    axisLabel: { show: pos === 'left', formatter: sci, fontSize: FS, fontFamily: FONT, color: '#000', margin: 15,
      padding: [4, 0, 0, 0] },
    splitLine: { show: false }
  };
}
const pairs = (xs, ys) => xs.map((x, i) => [x, ys[i]]);

const xAxes = [], yAxes = [], grids = [], titleList = [];
for (let g = 0; g < 3; g++) {
  grids.push({ left: 111, width: 1287, top: gridTops[g], height: gridHeights[g], outerBoundsMode: 'none', containLabel: false });
  xAxes.push(xAx(g, 'bottom'), xAx(g, 'top'));
  yAxes.push(yAx(g, 'left'), yAx(g, 'right'));
  titleList.push({ text: titles[g], left: 756, top: gridTops[g] - 45, textAlign: 'center', padding: 0,
    textStyle: { fontSize: FS, fontWeight: 'normal', fontFamily: FONT, color: '#000' } });
}

function alarmSeries(g, days) {
  return { type: 'line', xAxisIndex: 2 * g, yAxisIndex: 2 * g, data: [], z: 1, silent: true,
    markLine: { symbol: ['none', 'none'], silent: true, animation: false, label: { show: false },
      lineStyle: { color: '#0000ff', width: 1.5, type: [3, 3] },
      data: days.map(d => ({ xAxis: d })) } };
}
function barSeries(g, data) {
  return { type: 'bar', xAxisIndex: 2 * g, yAxisIndex: 2 * g, data: data, barWidth: 2, z: 2,
    itemStyle: { color: '#ff0000' }, silent: true };
}
function limitSeries(g, xs, ys) {
  return { type: 'line', xAxisIndex: 2 * g, yAxisIndex: 2 * g, data: pairs(xs, ys), showSymbol: false, z: 3,
    lineStyle: { color: '#00ee00', width: 1.5, type: [6, 3] }, silent: true };
}

const series = [
  { type: 'line', xAxisIndex: 0, yAxisIndex: 0, showSymbol: false, silent: true,
    data: measured.map((v, i) => [measuredStart + i * measuredStepHours / 24, v]),
    lineStyle: { color: '#ff0000', width: 1.3 } },
  alarmSeries(1, esAlarmDays),
  barSeries(1, pairs(esCusumDays, esCusumVals).concat(esGrass)),
  limitSeries(1, esLimitDays, esLimitVals),
  alarmSeries(2, hwAlarmDays),
  barSeries(2, pairs(hwCusumDays, hwCusumVals).concat(hwGrass)),
  limitSeries(2, hwLimitDays, hwLimitVals)
];

// annotation overlay (brackets and dashed arrows from the surrounding figure)
const dashStyle = { stroke: '#000', lineWidth: 3.5, lineDash: [11, 6], fill: null };
const solidStyle = { stroke: '#000', lineWidth: 3.5, fill: null };
const graphics = [
  { type: 'polyline', shape: { points: [[0, 185], [6, 185], [6, 343], [0, 343]] }, style: { stroke: '#000', lineWidth: 4, fill: null } },
  { type: 'polyline', shape: { points: [[0, 353], [6, 353], [6, 463], [0, 463]] }, style: { stroke: '#000', lineWidth: 4, fill: null } },
  { type: 'polyline', shape: { points: [[0, 468], [6, 468], [6, 536], [0, 536]] }, style: { stroke: '#000', lineWidth: 4, fill: null } },
  { type: 'line', shape: { x1: 9, y1: 264, x2: 624, y2: 442 }, style: dashStyle },
  { type: 'polyline', shape: { points: [[610, 430], [626, 443], [604, 449]] }, style: solidStyle },
  { type: 'line', shape: { x1: 9, y1: 408, x2: 178, y2: 504 }, style: dashStyle },
  { type: 'polyline', shape: { points: [[165, 488], [180, 505], [155, 506]] }, style: solidStyle },
  { type: 'line', shape: { x1: 9, y1: 503, x2: 156, y2: 580 }, style: dashStyle },
  { type: 'polyline', shape: { points: [[145, 564], [158, 582], [135, 582]] }, style: solidStyle },
  { type: 'line', shape: { x1: 0, y1: 641, x2: 562, y2: 656 }, style: dashStyle },
  { type: 'polyline', shape: { points: [[546, 646], [564, 656], [546, 664]] }, style: solidStyle }
].map(o => Object.assign({ z: 100, silent: true }, o));

const chart = echarts.init(document.getElementById('c'), null, { renderer: 'canvas' });
chart.setOption({
  animation: false,
  backgroundColor: '#fff',
  title: titleList,
  grid: grids,
  xAxis: xAxes,
  yAxis: yAxes,
  series: series,
  graphic: graphics
});
</script></body></html>
